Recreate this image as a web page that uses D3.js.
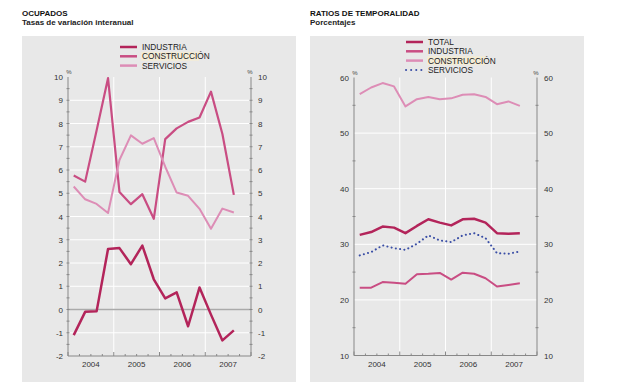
<!doctype html>
<html lang="es">
<head>
<meta charset="utf-8">
<script src="https://cdn.jsdelivr.net/npm/d3@7"></script>
<style>
body { margin: 0; background: #fff; }
svg { font-family: "Liberation Sans", Arial, sans-serif; }
.tick-label { font-size: 8px; fill: #333; }
.title { font-size: 8px; font-weight: bold; fill: #111; }
.sub { font-size: 8px; font-weight: bold; fill: #222; }
.leg { font-size: 8.3px; fill: #222; }
</style>
</head>
<body>
<svg id="chart" width="624" height="387"></svg>
<script>
//=============================== DATA ===================================
var quarters = d3.range(15).map(function(i) { return 2004 + (i + 0.5) / 4 })
var yearLabels = ['2004', '2005', '2006', '2007']

// OCUPADOS, tasas de variación interanual
var ocIndustria     = [-1.1, -0.1, -0.08, 2.6, 2.64, 1.95, 2.75, 1.3, 0.48, 0.74, -0.72, 0.95, -0.22, -1.33, -0.9]
var ocConstruccion  = [5.76, 5.5, 7.7, 9.95, 5.05, 4.53, 4.96, 3.9, 7.33, 7.79, 8.07, 8.26, 9.37, 7.55, 4.93]
var ocServicios     = [5.29, 4.74, 4.54, 4.15, 6.43, 7.49, 7.13, 7.37, 6.14, 5.03, 4.89, 4.33, 3.47, 4.34, 4.17]
var ocTicks = d3.range(-2, 11)

// RATIOS DE TEMPORALIDAD, porcentajes
var rtTotal        = [31.7, 32.2, 33.2, 33.0, 32.0, 33.3, 34.5, 33.9, 33.4, 34.5, 34.6, 33.9, 32.0, 31.9, 32.0]
var rtIndustria    = [22.2, 22.2, 23.2, 23.1, 22.9, 24.6, 24.7, 24.85, 23.65, 24.9, 24.7, 23.9, 22.4, 22.7, 23.0]
var rtConstruccion = [57.0, 58.2, 59.0, 58.4, 54.8, 56.1, 56.5, 56.1, 56.25, 56.9, 57.0, 56.5, 55.2, 55.7, 54.9]
var rtServicios    = [28.0, 28.6, 29.8, 29.3, 29.0, 30.1, 31.6, 30.7, 30.4, 31.6, 32.0, 31.1, 28.4, 28.3, 28.7]
var rtTicks = [10, 20, 30, 40, 50, 60]

var cDark = '#b3245a', cMid = '#c94d83', cLight = '#dd8db6', cBlue = '#3b4fa6'

//=============================== DRAW ===================================
var svg = d3.select('#chart')

function panel(o) {
	var g = svg.append('g')
	g.append('rect').attr('x', o.px).attr('y', 36).attr('width', 274).attr('height', 346).attr('fill', '#e8e8e8')
	g.append('text').attr('class', 'title').attr('x', o.px).attr('y', 16).text(o.title)
	g.append('text').attr('class', 'sub').attr('x', o.px).attr('y', 25).text(o.sub)

	var x = d3.scaleLinear().domain([2004, 2008]).range(o.xr)
	var y = d3.scaleLinear().domain(o.yd).range(o.yr)

	// grid
	g.selectAll('line.hg').data(o.grid).enter().append('line')
		.attr('x1', o.xr[0]).attr('x2', o.xr[1])
		.attr('y1', function(d) { return y(d) }).attr('y2', function(d) { return y(d) })
		.attr('stroke', '#fff').attr('stroke-width', 1)
	g.selectAll('line.vg').data([2005, 2006, 2007]).enter().append('line')
		.attr('x1', function(d) { return x(d) }).attr('x2', function(d) { return x(d) })
		.attr('y1', o.yr[1]).attr('y2', o.yr[0])
		.attr('stroke', '#fff').attr('stroke-width', 1)
	if (o.zero !== undefined) {
		g.append('line').attr('x1', o.xr[0]).attr('x2', o.xr[1])
			.attr('y1', y(o.zero)).attr('y2', y(o.zero))
			.attr('stroke', '#aaa').attr('stroke-width', 1.5)
	}

	// axes lines
	var ax = g.append('g').attr('stroke', '#888').attr('stroke-width', 1)
	ax.append('line').attr('x1', o.xr[0]).attr('x2', o.xr[0]).attr('y1', o.yr[1]).attr('y2', o.yr[0])
	ax.append('line').attr('x1', o.xr[1]).attr('x2', o.xr[1]).attr('y1', o.yr[1]).attr('y2', o.yr[0])
	ax.append('line').attr('x1', o.xr[0]).attr('x2', o.xr[1]).attr('y1', o.yr[0]).attr('y2', o.yr[0])
	o.minor.forEach(function(v) {
		[o.xr[0], o.xr[1]].forEach(function(xx) {
			ax.append('line').attr('x1', xx - 1.5).attr('x2', xx + 1.5).attr('y1', y(v)).attr('y2', y(v))
		})
	})
	d3.range(2004, 2008.01, 0.25).forEach(function(q) {
		var major = Math.abs(q - Math.round(q)) < 1e-6
		ax.append('line').attr('x1', x(q)).attr('x2', x(q))
			.attr('y1', o.yr[0]).attr('y2', o.yr[0] - (major ? 4 : 2))
	})

	// tick labels
	o.ticks.forEach(function(v) {
		g.append('text').attr('class', 'tick-label').attr('x', o.xr[0] - 5).attr('y', y(v) + 3)
			.attr('text-anchor', 'end').text(v)
		g.append('text').attr('class', 'tick-label').attr('x', o.xr[1] + 7).attr('y', y(v) + 3)
			.text(v)
	})
	;[o.xr[0] + 1, o.xr[1] - 1].forEach(function(xx) {
		g.append('text').attr('x', xx).attr('y', o.yr[1] - 3).attr('text-anchor', 'middle')
			.style('font-size', '6px').attr('fill', '#444').text('%')
	})
	yearLabels.forEach(function(t, i) {
		g.append('text').attr('class', 'tick-label').attr('x', x(2004.5 + i)).attr('y', o.yr[0] + 11)
			.attr('text-anchor', 'middle').text(t)
	})

	// series
	var line = d3.line().x(function(d, i) { return x(quarters[i]) }).y(function(d) { return y(d) })
	o.series.forEach(function(s) {
		g.append('path').datum(s.data).attr('d', line)
			.attr('fill', 'none').attr('stroke', s.color).attr('stroke-width', s.w)
			.attr('stroke-linejoin', 'round').attr('stroke-linecap', s.dash ? 'round' : 'butt')
			.attr('stroke-dasharray', s.dash || null)
	})

	// legend
	o.series.forEach(function(s, i) {
		var ly = o.ly + i * 9.3
		g.append('line').attr('x1', o.lx).attr('x2', o.lx + 17).attr('y1', ly).attr('y2', ly)
			.attr('stroke', s.color).attr('stroke-width', s.dash ? 2 : 2.5)
			.attr('stroke-dasharray', s.dash ? '0.1,5' : null).attr('stroke-linecap', s.dash ? 'round' : 'butt')
		if (s.hl) {
			g.append('rect').attr('x', o.lx + 21).attr('y', ly - 4.5).attr('width', 58).attr('height', 9)
				.attr('fill', '#f3ecd6')
		}
		g.append('text').attr('class', 'leg').attr('x', o.lx + 22).attr('y', ly + 3)
			.attr('fill', s.hl ? '#8a6a3a' : '#222').text(s.name)
	})
}

panel({
	px: 22, title: 'OCUPADOS', sub: 'Tasas de variación interanual',
	xr: [68, 251], yd: [-2, 10], yr: [356, 77], ticks: ocTicks,
	grid: d3.range(-1, 10), zero: 0, minor: d3.range(-1.5, 10, 0.5),
	lx: 120, ly: 47,
	series: [
		{ name: 'INDUSTRIA', data: ocIndustria, color: cDark, w: 2.5 },
		{ name: 'CONSTRUCCIÓN', data: ocConstruccion, color: cMid, w: 2.2, hl: true },
		{ name: 'SERVICIOS', data: ocServicios, color: cLight, w: 2 }
	]
})

panel({
	px: 310, title: 'RATIOS DE TEMPORALIDAD', sub: 'Porcentajes',
	xr: [354, 537], yd: [10, 60], yr: [355.5, 77.5], ticks: rtTicks,
	grid: [20, 30, 40, 50], minor: [15, 25, 35, 45, 55],
	lx: 406, ly: 42,
	series: [
		{ name: 'TOTAL', data: rtTotal, color: cDark, w: 2.5 },
		{ name: 'INDUSTRIA', data: rtIndustria, color: cMid, w: 2 },
		{ name: 'CONSTRUCCIÓN', data: rtConstruccion, color: cLight, w: 2, hl: true },
		{ name: 'SERVICIOS', data: rtServicios, color: cBlue, w: 2, dash: '0.1,4.2' }
	]
})
</script>
</body>
</html>
